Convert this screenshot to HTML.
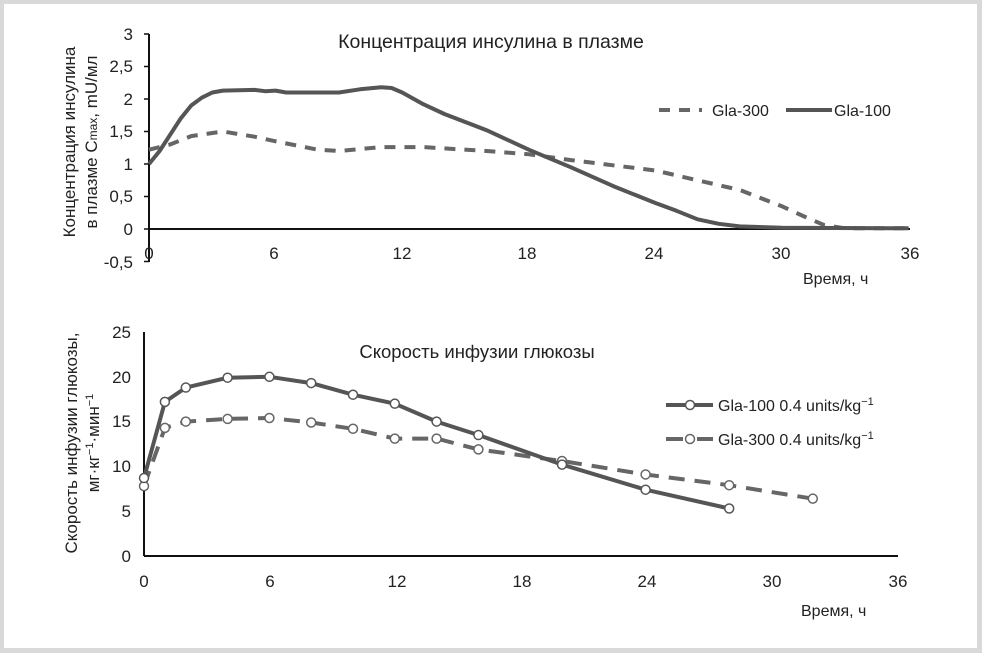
<!DOCTYPE html>
<html><head><meta charset="utf-8"><style>
html,body{margin:0;padding:0;background:#d9d9d9;}
svg{display:block;}
text{font-family:"Liberation Sans","DejaVu Sans",sans-serif;fill:#222;}
</style></head><body>
<svg id="s" width="982" height="653" xmlns="http://www.w3.org/2000/svg">
<rect x="0" y="0" width="982" height="653" fill="#d9d9d9"/>
<rect x="4" y="4" width="973" height="644" fill="#fff"/>
<!-- top chart axes -->
<line x1="149" y1="34" x2="149" y2="262" stroke="#111" stroke-width="2"/>
<line x1="149" y1="229" x2="910" y2="229" stroke="#111" stroke-width="2"/>
<g stroke="#111" stroke-width="1.5">
<line x1="144" y1="34" x2="149" y2="34"/><line x1="144" y1="66.5" x2="149" y2="66.5"/><line x1="144" y1="99" x2="149" y2="99"/><line x1="144" y1="131.5" x2="149" y2="131.5"/><line x1="144" y1="164" x2="149" y2="164"/><line x1="144" y1="196.5" x2="149" y2="196.5"/><line x1="144" y1="229" x2="149" y2="229"/><line x1="144" y1="261.5" x2="149" y2="261.5"/>
</g>
<g font-size="17" text-anchor="end">
<text x="133" y="40">3</text><text x="133" y="105">2</text><text x="133" y="170">1</text><text x="133" y="235">0</text>
<text x="133" y="72">2,5</text><text x="133" y="137">1,5</text><text x="133" y="202">0,5</text><text x="133" y="268">-0,5</text>
</g>
<g font-size="17" text-anchor="middle">
<text x="149" y="259">0</text><text x="274" y="259">6</text><text x="402" y="259">12</text><text x="527" y="259">18</text><text x="654" y="259">24</text><text x="781" y="259">30</text><text x="910" y="259">36</text>
</g>
<text x="803" y="284" font-size="16">Время, ч</text>
<text x="491" y="48" font-size="19.5" text-anchor="middle">Концентрация инсулина в плазме</text>
<text transform="translate(75,142) rotate(-90)" font-size="17" text-anchor="middle">Концентрация инсулина</text>
<text transform="translate(97,142) rotate(-90)" font-size="17" text-anchor="middle">в плазме C<tspan font-size="12">max</tspan>, mU/мл</text>
<line x1="659" y1="110" x2="702" y2="110" stroke="#666" stroke-width="4" stroke-dasharray="11,9"/>
<text x="712" y="116" font-size="16">Gla-300</text>
<line x1="786" y1="110" x2="832" y2="110" stroke="#555" stroke-width="4"/>
<text x="834" y="116" font-size="16">Gla-100</text>
<!-- bottom chart axes -->
<line x1="144" y1="332" x2="144" y2="556" stroke="#111" stroke-width="2"/>
<line x1="144" y1="556" x2="898" y2="556" stroke="#111" stroke-width="2"/>
<g font-size="17" text-anchor="end">
<text x="131" y="338">25</text><text x="131" y="383">20</text><text x="131" y="427">15</text><text x="131" y="472">10</text><text x="131" y="517">5</text><text x="131" y="562">0</text>
</g>
<g font-size="17" text-anchor="middle">
<text x="144" y="587">0</text><text x="270" y="587">6</text><text x="397" y="587">12</text><text x="522" y="587">18</text><text x="647" y="587">24</text><text x="772" y="587">30</text><text x="898" y="587">36</text>
</g>
<text x="801" y="616" font-size="16">Время, ч</text>
<text x="477" y="358" font-size="18.5" text-anchor="middle">Скорость инфузии глюкозы</text>
<text transform="translate(77,443) rotate(-90)" font-size="17" text-anchor="middle">Скорость инфузии глюкозы,</text>
<text transform="translate(99,443) rotate(-90)" font-size="17" text-anchor="middle">мг·кг<tspan font-size="11" dy="-6">−1</tspan><tspan dy="6">·мин</tspan><tspan font-size="11" dy="-6">−1</tspan></text>
<line x1="666" y1="405" x2="713" y2="405" stroke="#555" stroke-width="4"/>
<circle cx="690" cy="405" r="4.5" fill="#fff" stroke="#555" stroke-width="1.5"/>
<text x="718" y="411" font-size="16">Gla-100 0.4 units/kg<tspan font-size="11" dy="-6">−1</tspan></text>
<line x1="666" y1="439" x2="683" y2="439" stroke="#666" stroke-width="4"/>
<line x1="697" y1="439" x2="713" y2="439" stroke="#666" stroke-width="4"/>
<circle cx="690" cy="439" r="4.5" fill="#fff" stroke="#666" stroke-width="1.5"/>
<text x="718" y="445" font-size="16">Gla-300 0.4 units/kg<tspan font-size="11" dy="-6">−1</tspan></text>
<g id="g"></g>
</svg>
<script>
var NS="http://www.w3.org/2000/svg",g=document.getElementById("g");
function path(pts,fx,fy,stroke,dash){var d=pts.map(function(p,i){return(i?"L":"M")+fx(p[0]).toFixed(1)+","+fy(p[1]).toFixed(1)}).join("");
var e=document.createElementNS(NS,"path");e.setAttribute("d",d);e.setAttribute("fill","none");e.setAttribute("stroke",stroke);e.setAttribute("stroke-width","4");e.setAttribute("stroke-linejoin","round");if(dash)e.setAttribute("stroke-dasharray",dash);g.appendChild(e);}
function dots(pts,fx,fy,stroke){pts.forEach(function(p){var c=document.createElementNS(NS,"circle");c.setAttribute("cx",fx(p[0]));c.setAttribute("cy",fy(p[1]));c.setAttribute("r","4.5");c.setAttribute("fill","#fff");c.setAttribute("stroke",stroke);c.setAttribute("stroke-width","1.5");g.appendChild(c);});}
var tx=function(t){return 149+21.1*t},ty=function(v){return 229-65*v};
var g100=[[0,1.0],[0.5,1.2],[1,1.45],[1.5,1.7],[2,1.9],[2.5,2.02],[3,2.1],[3.5,2.13],[5,2.14],[5.5,2.12],[6,2.13],[6.5,2.1],[9,2.1],[10,2.15],[11,2.18],[11.5,2.17],[12,2.1],[13,1.92],[14,1.77],[16,1.52],[18,1.22],[20,0.95],[22,0.66],[24,0.4],[25,0.28],[26,0.15],[27,0.08],[28,0.04],[30,0.02],[36,0.01]];
var g300=[[0,1.22],[1,1.3],[2,1.43],[3.5,1.5],[5,1.42],[6,1.35],[8,1.22],[9,1.2],[10,1.23],[11,1.26],[13,1.26],[16,1.2],[18,1.15],[20,1.06],[22,0.98],[24,0.9],[26,0.75],[28,0.6],[30,0.35],[31,0.2],[32,0.06],[33,0.01],[36,0.01]];
path(g300,tx,ty,"#666","11,9");path(g100,tx,ty,"#555");
var bx=function(t){return 144+20.9*t},by=function(v){return 556-8.96*v};
var b100=[[0,8.7],[1,17.2],[2,18.8],[4,19.9],[6,20],[8,19.3],[10,18],[12,17],[14,15],[16,13.5],[20,10.2],[24,7.4],[28,5.3]];
var b300=[[0,7.8],[1,14.3],[2,15],[4,15.3],[6,15.4],[8,14.9],[10,14.2],[12,13.1],[14,13.1],[16,11.9],[20,10.6],[24,9.1],[28,7.9],[32,6.4]];
path(b300,bx,by,"#666","16,10");path(b100,bx,by,"#555");
dots(b300,bx,by,"#666");dots(b100,bx,by,"#555");
</script>
</body></html>
